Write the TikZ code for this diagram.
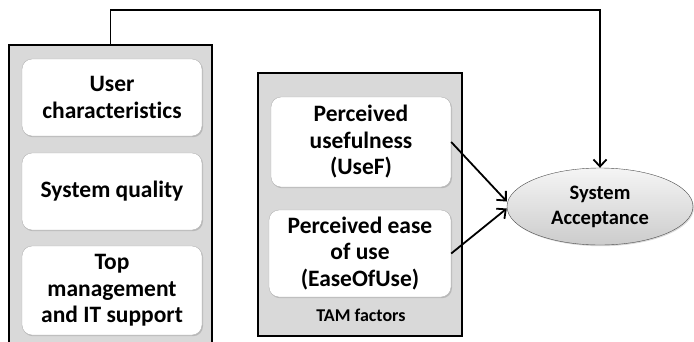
\documentclass[tikz,border=0pt]{standalone}
\usepackage{fontspec}
\setmainfont{Carlito}[Ligatures=NoCommon]
\usetikzlibrary{arrows.meta,
              positioning,
              shapes.geometric,
              shadows}

\begin{document}
\begin{tikzpicture}[x=1pt, y=-1pt,
     group/.style = {draw, line width=1.8pt, fill=gray!30, inner sep=0pt},
    factor/.style = {draw=gray!60, fill=white, rounded corners=10pt,
                     minimum width=180pt, align=center, inner sep=0pt,
                     font=\fontsize{23.5}{26.5}\selectfont\bfseries,
                     drop shadow={opacity=0.35, shadow xshift=1pt, shadow yshift=-1.2pt}},
    accept/.style = {ellipse, draw=gray!60!black, top color=gray!8, bottom color=gray!40,
                     minimum width=186pt, minimum height=77pt, inner sep=0pt,
                     align=center, font=\fontsize{20.5}{25}\selectfont\bfseries,
                     drop shadow={opacity=0.3, shadow xshift=1pt, shadow yshift=-1.2pt}},
      link/.style = {line width=1.8pt, -{Straight Barb[length=7pt, width=13pt, line width=1.8pt]}}]
\useasboundingbox (0,0) rectangle (694,341);

% outer groups
\node (context) [group, minimum width=203pt, minimum height=315pt] at (110.5,202.5) {};
\node (tam)     [group, minimum width=204pt, minimum height=263pt] at (360,204.5)  {};
\node (tamlbl)  [font=\fontsize{18}{20}\selectfont\bfseries] at (361,315) {TAM factors};

% factors
\node (user) [factor, minimum height=77pt] at (112,97.5)  {User\\characteristics};
\node (sysq) [factor, minimum height=77pt] at (112,191.5) {System quality};
\node (topm) [factor, minimum height=89pt] at (112,290.5) {Top\\management\\and IT support};

\node (usef) [factor, minimum height=90pt] at (361,142)   {Perceived\\usefulness\\(UseF)};
\node (eou)  [factor, minimum height=87pt, minimum width=182pt] at (360,253.5) {Perceived ease\\of use\\(EaseOfUse)};

\node (acc)  [accept] at (600,206.5) {System\\Acceptance};

%%
\draw [link] (usef.east) -- ([yshift=5pt]acc.west);
\draw [link] (eou.east)  -- ([yshift=-2pt]acc.west);
\draw [link] (context.north) -- ++(0,-34) -| (acc.north);
\end{tikzpicture}
\end{document}
